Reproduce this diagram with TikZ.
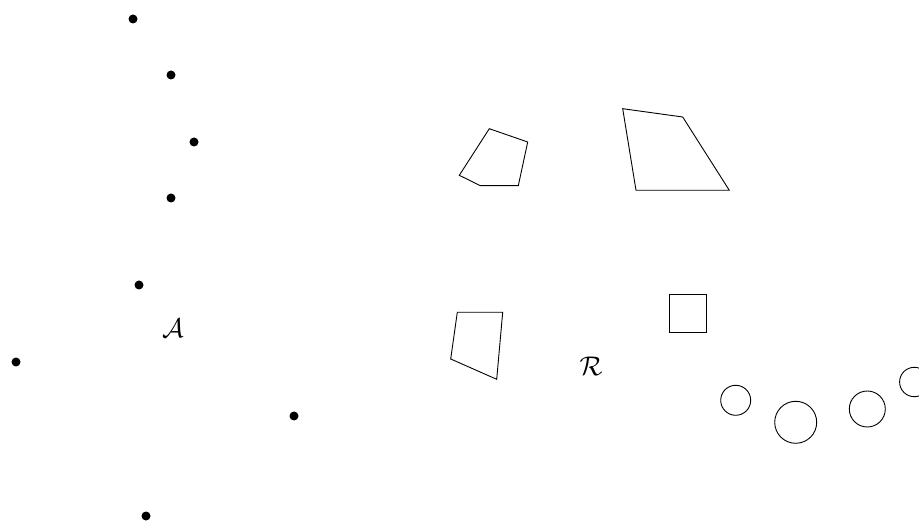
\documentclass[tikz,border=0pt]{standalone}
\begin{document}
\begin{tikzpicture}[x=1pt,y=-1pt,
  dot/.style={circle,fill=black,inner sep=0pt,minimum size=9pt},
  outl/.style={draw=black,line width=0.9pt,line join=miter},
  lbl/.style={inner sep=0pt,scale=2.7}]
\useasboundingbox (0,0) rectangle (919,521);
% dots
\node[dot] (d1) at (133,19) {};
\node[dot] (d2) at (171,75) {};
\node[dot] (d3) at (194,142) {};
\node[dot] (d4) at (171,198) {};
\node[dot] (d5) at (139,285) {};
\node[dot] (d6) at (16,362) {};
\node[dot] (d7) at (294,416) {};
\node[dot] (d8) at (146,516) {};
\node[lbl] (A) at (173,328) {$\mathcal{A}$};
\node[lbl] (R) at (591,366) {$\mathcal{R}$};
% polygons
\draw[outl] (489.3,128.7) -- (527.7,142) -- (518.3,185.7) -- (480.3,185.7) -- (459.3,175.3) -- cycle;
\draw[outl] (622.7,108.7) -- (682.7,117) -- (729.3,190.3) -- (636,190.3) -- cycle;
\draw[outl] (457.3,312.3) -- (502.7,312.3) -- (496.7,379.3) -- (450.7,359) -- cycle;
\draw[outl] (669.3,294.3) rectangle (706.7,332.7);
% circles
\draw[outl] (735.7,400.3) circle[radius=15];
\draw[outl] (795.7,422.3) circle[radius=21];
\draw[outl] (867.3,409) circle[radius=18];
\draw[outl] (914.3,382) circle[radius=14.7];
\end{tikzpicture}
\end{document}
